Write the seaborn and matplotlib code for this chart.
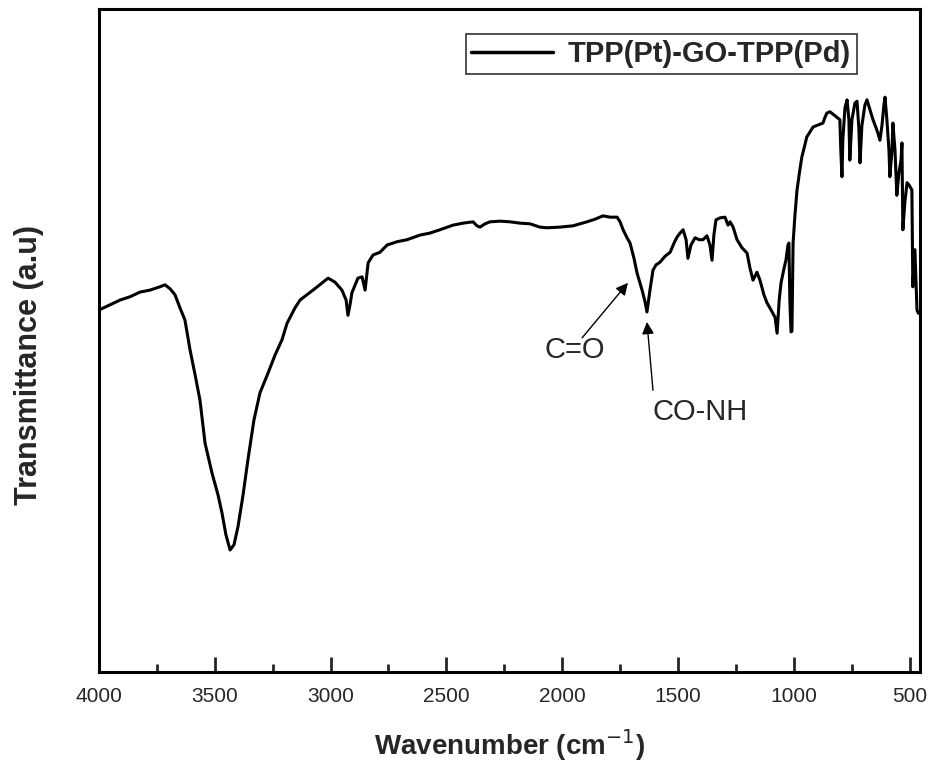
import matplotlib
matplotlib.use("Agg")
import matplotlib.pyplot as plt
import seaborn as sns
import pandas as pd

# FTIR spectrum of TPP(Pt)-GO-TPP(Pd)
wavenumber = [4000, 3952, 3909, 3866, 3823, 3780, 3737, 3715, 3693, 3672, 3650, 3629, 3607, 3585,
              3564, 3542, 3512, 3486, 3469, 3452, 3434, 3417, 3400, 3378, 3357, 3331, 3305, 3270,
              3240, 3210, 3188, 3154, 3132, 3076, 3011, 2981, 2951, 2933, 2925, 2916, 2908, 2882,
              2864, 2851, 2838, 2817, 2787, 2756, 2713, 2670, 2614, 2571, 2528, 2471, 2428, 2385,
              2368, 2355, 2333, 2312, 2268, 2225, 2182, 2139, 2096, 2066, 2010, 1953, 1893, 1858,
              1824, 1793, 1763, 1750, 1737, 1720, 1707, 1690, 1677, 1655, 1642, 1634, 1621, 1608,
              1595, 1578, 1556, 1534, 1517, 1504, 1491, 1478, 1465, 1457, 1444, 1426, 1409, 1392,
              1375, 1362, 1353, 1345, 1336, 1318, 1297, 1284, 1275, 1262, 1245, 1224, 1202, 1189,
              1176, 1159, 1146, 1129, 1116, 1098, 1081, 1072, 1063, 1055, 1042, 1034, 1025, 1021,
              1017, 1012, 1008, 1003, 995, 986, 974, 965, 952, 944, 931, 917, 896, 874, 866, 857,
              844, 822, 801, 797, 792, 788, 779, 770, 762, 758, 749, 736, 727, 719, 714, 706, 693,
              684, 671, 658, 645, 637, 628, 619, 611, 606, 598, 589, 585, 576, 572, 563, 555, 546,
              537, 533, 529, 520, 511, 503, 490, 486, 477, 468, 462]
transmittance = [54.6, 55.4, 56.1, 56.6, 57.3, 57.6, 58.1, 58.4, 57.8, 56.9, 54.9, 53.1, 48.6, 44.8,
                 41.0, 34.5, 30.0, 26.7, 24.0, 20.7, 18.4, 19.2, 21.9, 26.7, 32.0, 38.0, 42.1, 45.1,
                 47.8, 50.1, 52.6, 54.9, 56.1, 57.6, 59.4, 58.8, 57.6, 56.1, 53.8, 55.4, 57.2, 59.4,
                 59.6, 57.6, 61.7, 62.9, 63.3, 64.4, 64.9, 65.2, 65.9, 66.2, 66.7, 67.4, 67.7, 67.9,
                 67.3, 67.1, 67.6, 67.9, 68.0, 67.9, 67.7, 67.6, 67.1, 67.0, 67.1, 67.3, 67.9, 68.3,
                 68.8, 68.6, 68.6, 67.9, 66.7, 65.5, 64.7, 62.4, 60.2, 57.6, 55.8, 54.3, 57.6, 60.6,
                 61.4, 61.8, 62.7, 63.3, 64.7, 65.6, 66.2, 66.7, 65.2, 62.4, 64.4, 65.5, 65.2, 65.2,
                 65.8, 64.4, 62.1, 65.9, 68.2, 68.5, 68.6, 67.4, 67.9, 67.1, 65.2, 64.0, 63.2, 60.9,
                 59.1, 60.3, 59.1, 56.9, 55.7, 54.6, 53.5, 51.1, 56.1, 58.7, 60.9, 62.1, 64.4, 64.7,
                 56.1, 51.3, 51.4, 64.7, 68.9, 72.7, 75.7, 77.7, 79.5, 80.7, 81.4, 82.2, 82.5, 82.8,
                 83.6, 84.3, 84.5, 83.9, 83.3, 78.7, 74.7, 80.4, 85.1, 86.3, 83.3, 77.2, 83.3, 85.8,
                 86.1, 82.0, 76.8, 82.4, 85.5, 86.3, 84.8, 83.3, 82.1, 81.3, 80.2, 82.5, 85.5, 86.7,
                 83.3, 78.7, 74.7, 78.7, 82.8, 78.7, 71.9, 75.3, 77.2, 79.8, 66.7, 71.0, 73.8, 73.5,
                 72.7, 58.1, 63.7, 54.6, 54.1]
series_label = "TPP(Pt)-GO-TPP(Pd)"
x_ticks = [4000, 3500, 3000, 2500, 2000, 1500, 1000, 500]
x_minor = [3750, 3250, 2750, 2250, 1750, 1250, 750]
ann_co = "C=O"
ann_conh = "CO-NH"

df = pd.DataFrame({"Wavenumber": wavenumber, "Transmittance": transmittance, "sample": series_label})

sns.set_style("white")
plt.rcParams['font.family'] = ['Liberation Sans', 'DejaVu Sans']

fig = plt.figure(figsize=(9.33, 7.73), dpi=100)
ax = fig.add_axes([99 / 933, 1 - 672 / 773, 821 / 933, 663 / 773])

sns.lineplot(data=df, x="Wavenumber", y="Transmittance", hue="sample", palette=["black"],
             sort=False, estimator=None, linewidth=2.2, ax=ax)

ax.set_xlim(4000, 455)
ax.set_ylim(0, 100)
ax.set_xticks(x_ticks)
ax.set_xticks(x_minor, minor=True)
ax.set_xticklabels([str(t) for t in x_ticks], fontsize=15)
ax.set_yticks([])
ax.tick_params(axis="x", which="major", direction="in", length=11, width=2, pad=11, bottom=True, top=False)
ax.tick_params(axis="x", which="minor", direction="in", length=6, width=2, bottom=True, top=False)
for s in ax.spines.values():
    s.set_linewidth(2.2)
    s.set_color("black")
    s.set_visible(True)

ax.set_xlabel("Wavenumber (cm$^{-1}$)", fontsize=20, fontweight="bold")
ax.set_ylabel("Transmittance (a.u)", fontsize=22, fontweight="bold")
ax.xaxis.set_label_coords(0.5, -0.083)
ax.yaxis.set_label_coords(-0.067, 0.463)

leg = ax.legend(loc="upper right", bbox_to_anchor=(0.923, 0.962), frameon=True, fancybox=False,
                handlelength=2.8, handletextpad=0.5, borderpad=0.2, borderaxespad=0,
                prop={"weight": "bold", "size": 21})
leg.get_frame().set_edgecolor("black")
leg.get_frame().set_linewidth(1.2)
for line in leg.get_lines():
    line.set_linewidth(2.5)

# annotations
ax.text(1945, 48.6, ann_co, fontsize=21, ha="center", va="center")
ax.annotate("", xy=(1716, 58.7), xytext=(1914, 50.4),
            arrowprops=dict(arrowstyle="-|>", color="black", lw=1.0, mutation_scale=18, shrinkA=0, shrinkB=0))
ax.text(1405, 39.2, ann_conh, fontsize=21, ha="center", va="center")
ax.annotate("", xy=(1634, 52.8), xytext=(1608, 42.5),
            arrowprops=dict(arrowstyle="-|>", color="black", lw=1.0, mutation_scale=18, shrinkA=0, shrinkB=0))

fig.savefig("out.png", dpi=100)
